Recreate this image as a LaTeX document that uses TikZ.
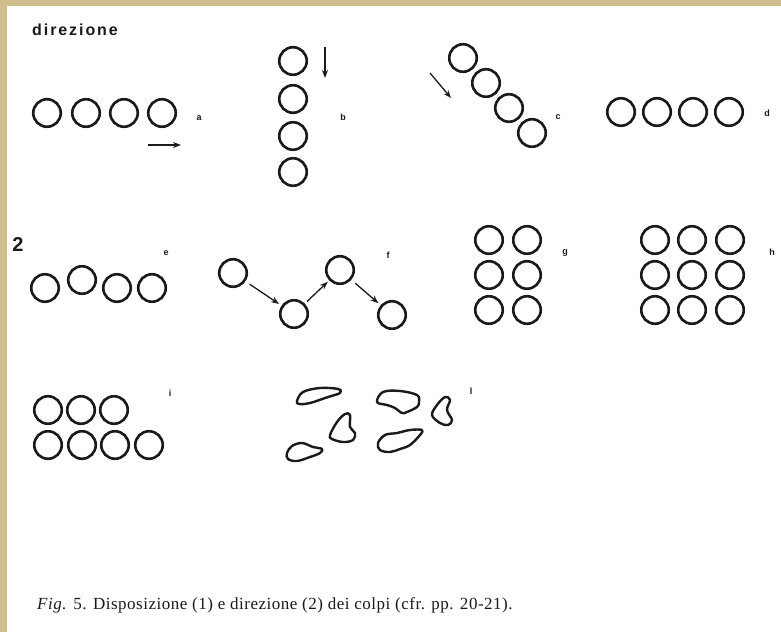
\documentclass[tikz,border=0pt]{standalone}
\usepackage{fontspec}
\setmainfont{Liberation Serif}
\setsansfont{Liberation Sans}
\newfontfamily\headfont[LetterSpace=12]{Liberation Sans}
\newfontfamily\capfont[LetterSpace=3]{Liberation Serif}
\usetikzlibrary{arrows.meta}
\definecolor{pagetan}{HTML}{CEBE8E}
\definecolor{ink}{HTML}{1A1A1A}

\begin{document}
\begin{tikzpicture}[x=1pt,y=-1pt,
  font=\rmfamily,
  >={Stealth[length=8pt,width=6pt]},
  shot/.style={circle,draw=ink,line width=2.6pt,minimum size=27.5pt,inner sep=0pt},
  tag/.style={font=\sffamily\bfseries\fontsize{9}{10}\selectfont,text=ink,inner sep=0pt},
  dirarrow/.style={->,draw=ink,line width=1.3pt},
  blob/.style={draw=ink,line width=2.4pt,line join=round},
]

% ===================== PAGE =====================
\useasboundingbox (0,0) rectangle (781,632);
\fill[pagetan] (0,0) rectangle (781,632);
\fill[white] (7,6) rectangle (781,632);

\node[font=\headfont\bfseries\fontsize{16}{18}\selectfont,text=ink,anchor=base west,inner sep=0pt] (title) at (32,35) {direzione};

% ===================== ROW 1: a, b, c, d =====================
\foreach \i/\x in {1/47,2/86,3/124,4/162}{\node[shot] (a\i) at (\x,113) {};}
\coordinate (aS) at (148,145); \coordinate (aE) at (181,145);
\draw[dirarrow] (aS)--(aE);
\node[tag] (la) at (199,118) {a};

\foreach \i/\y in {1/61,2/99,3/136,4/172}{\node[shot] (b\i) at (293,\y) {};}
\coordinate (bS) at (325,47); \coordinate (bE) at (325,78);
\draw[dirarrow] (bS)--(bE);
\node[tag] (lb) at (343,117) {b};

\foreach \i/\x/\y in {1/463/58,2/486/83,3/509/108,4/532/133}{\node[shot] (c\i) at (\x,\y) {};}
\coordinate (cS) at (430,73); \coordinate (cE) at (451,98);
\draw[dirarrow] (cS)--(cE);
\node[tag] (lc) at (558,117) {c};

\foreach \i/\x in {1/621,2/657,3/693,4/729}{\node[shot] (d\i) at (\x,112) {};}
\node[tag] (ld) at (767,113) {d};

% ===================== ROW 2: e, f, g, h =====================
\node[font=\sffamily\bfseries\fontsize{20}{22}\selectfont,text=ink,inner sep=0pt] (two) at (18,245) {2};

\foreach \i/\x/\y in {1/45/288,2/82/280,3/117/288,4/152/288}{\node[shot] (e\i) at (\x,\y) {};}
\node[tag] (le) at (166,253) {e};

\foreach \i/\x/\y in {1/233/273,2/294/314,3/340/270,4/392/315}{\node[shot] (f\i) at (\x,\y) {};}
\draw[dirarrow,shorten <=5pt,shorten >=3pt] (f1)--(f2);
\draw[dirarrow,shorten <=3pt,shorten >=2pt] (f2)--(f3);
\draw[dirarrow,shorten <=5pt,shorten >=3pt] (f3)--(f4);
\node[tag] (lf) at (388,255) {f};

\foreach \c/\x in {1/489,2/527}{
  \foreach \r/\y in {1/240,2/275,3/310}{\node[shot] (g\r\c) at (\x,\y) {};}}
\node[tag] (lg) at (565,253) {g};

\foreach \c/\x in {1/655,2/692,3/730}{
  \foreach \r/\y in {1/240,2/275,3/310}{\node[shot] (h\r\c) at (\x,\y) {};}}
\node[tag] (lh) at (772,252) {h};

% ===================== ROW 3: i, l =====================
\foreach \i/\x in {1/48,2/81,3/114}{\node[shot] (i1\i) at (\x,410) {};}
\foreach \i/\x in {1/48,2/82,3/115,4/149}{\node[shot] (i2\i) at (\x,445) {};}
\node[tag] (li) at (170,393) {i};

% irregular marks
\draw[blob] plot[smooth cycle,tension=0.6] coordinates {(297,401) (303,392) (320,388) (338,389) (340,393) (328,397) (310,403) (299,404)};
\draw[blob] plot[smooth cycle,tension=0.6] coordinates {(330,435) (337,422) (345,414) (350,415) (350,427) (355,433) (353,440) (343,442) (332,439)};
\draw[blob] plot[smooth cycle,tension=0.6] coordinates {(287,453) (292,446) (302,443) (313,447) (322,449) (320,453) (310,457) (297,461) (288,459)};
\draw[blob] plot[smooth cycle,tension=0.6] coordinates {(377,402) (383,392) (400,391) (417,395) (419,402) (417,407) (407,412) (402,413) (395,408) (387,405)};
\draw[blob] plot[smooth cycle,tension=0.6] coordinates {(378,443) (385,435) (397,433) (410,430) (422,430) (420,435) (410,445) (400,449) (390,452) (380,450)};
\draw[blob] plot[smooth cycle,tension=0.6] coordinates {(432,415) (437,405) (445,397) (450,400) (447,410) (452,420) (448,425) (440,423)};
\node[tag] (ll) at (471,391) {l};

% ===================== CAPTION =====================
\node[font=\capfont\fontsize{17}{19}\selectfont,text=ink,anchor=base west,inner sep=0pt] (caption) at (37,609)
  {\textit{Fig.} 5. Disposizione (1) e direzione (2) dei colpi (cfr. pp. 20-21).};

\end{tikzpicture}
\end{document}
